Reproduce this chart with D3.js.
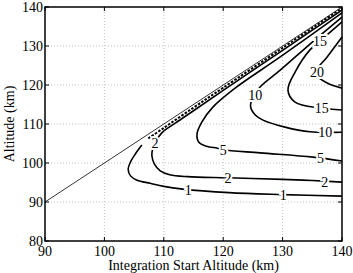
<!DOCTYPE html>
<html>
<head>
<meta charset="utf-8">
<script src="https://cdn.jsdelivr.net/npm/d3@7"></script>
<style>
  body { margin: 0; background: #fff; }
  svg, svg text { font-family: "Liberation Serif", "DejaVu Serif", "Times New Roman", serif; }
  svg { display: block; }
</style>
</head>
<body>
<svg></svg>
<script>
// axis ticks
const xTicks = [90, 100, 110, 120, 130, 140];
const yTicks = [80, 90, 100, 110, 120, 130, 140];
const diagonal = [90, 140];

// contour lines, [integration start altitude, altitude]
const c1Upper = [[107.4, 106.3], [110, 109], [115, 114.2], [120, 119.3], [130, 129.5], [140, 139.7]];
const c1 = [[106.3, 104.6], [105.2, 102.3], [104.4, 100.3], [104.0, 98.4], [104.4, 96.7], [105.5, 95.6],
  [107.7, 94.8], [110, 94.0], [113.2, 93.3], [121, 92.4], [130, 91.9], [140, 91.5]];
const c2 = [[140, 139.2], [130, 128.9], [120, 118.6], [115, 113.4], [112, 110.3], [109.7, 107.8],
  [108.6, 105.4], [108.1, 103.5], [108.0, 101.8], [108.4, 99.8], [109.4, 98.0], [111, 97.0],
  [114, 96.5], [120.8, 96.2], [130, 95.8], [135, 95.5], [140, 95.1]];
const c5 = [[140, 138.5], [129.6, 127.2], [122, 119.2], [118.3, 114.4], [116.4, 110.5], [115.6, 107.5],
  [115.9, 105.3], [117.2, 104.3], [119, 103.8], [120, 103.4], [126.2, 102.6], [135.1, 101.5], [140, 100.5]];
const c10 = [[140, 137.4], [135, 131.0], [129.6, 123.8], [126.2, 119.5], [125.0, 116.8], [124.6, 114.6],
  [125.4, 112.3], [126.7, 111.0], [130.4, 109.2], [134.6, 108.0], [140, 107.9]];
const c15 = [[140, 136.2], [136.3, 131.3], [134.6, 129.0], [132.1, 123.3], [130.9, 118.7], [132.1, 115.6],
  [136.3, 114.1], [140, 113.6]];
const c20 = [[140, 132.3], [137.5, 127.2], [135.8, 124.0], [135.7, 122.6], [137.5, 120.5], [140, 119.2]];

// label positions
const labelText = ['1', '1', '2', '2', '2', '5', '5', '10', '10', '15', '15', '20'];
const labelX = [114.1, 130.1, 108.5, 120.8, 137.1, 120.0, 136.4, 125.4, 137.2, 136.3, 136.6, 135.8];
const labelY = [93.1, 91.8, 105.1, 96.2, 95.1, 103.3, 101.2, 117.4, 107.9, 131.2, 114.0, 123.3];

const width = 353;
const height = 273;
const margin = { left: 45, top: 7, right: 11, bottom: 32 };
const font = '"Liberation Serif", "DejaVu Serif", "Times New Roman", serif';

const svg = d3.select('svg')
  .attr('width', width)
  .attr('height', height)
  .attr('font-family', font);

const x = d3.scaleLinear().domain([90, 140]).range([margin.left, width - margin.right]);
const y = d3.scaleLinear().domain([80, 140]).range([height - margin.bottom, margin.top]);

// grid
const grid = svg.append('g')
  .attr('stroke', '#b4b4b4')
  .attr('stroke-width', 0.8)
  .attr('stroke-dasharray', '1,2');
grid.selectAll('line.gx').data(xTicks.slice(1, -1)).enter().append('line')
  .attr('x1', (d) => x(d)).attr('x2', (d) => x(d))
  .attr('y1', y(80)).attr('y2', y(140));
grid.selectAll('line.gy').data(yTicks.slice(1, -1)).enter().append('line')
  .attr('y1', (d) => y(d)).attr('y2', (d) => y(d))
  .attr('x1', x(90)).attr('x2', x(140));

// diagonal
svg.append('line')
  .attr('x1', x(diagonal[0])).attr('y1', y(diagonal[0]))
  .attr('x2', x(diagonal[1])).attr('y2', y(diagonal[1]))
  .attr('stroke', '#000').attr('stroke-width', 0.8);

const line = d3.line()
  .x((d) => x(d[0]))
  .y((d) => y(d[1]))
  .curve(d3.curveCatmullRom);

svg.append('path')
  .attr('d', line(c1Upper))
  .attr('fill', 'none').attr('stroke', '#000')
  .attr('stroke-width', 2).attr('stroke-dasharray', '2.5,1.5');

const g = svg.append('g').attr('fill', 'none').attr('stroke', '#000').attr('stroke-width', 1.6);
[c1, c2, c5, c10, c15, c20].forEach((c) => {
  g.append('path').attr('d', line(c));
});

// contour labels
svg.append('g')
  .selectAll('text')
  .data(labelText)
  .enter()
  .append('text')
  .attr('x', (d, i) => x(labelX[i]))
  .attr('y', (d, i) => y(labelY[i]))
  .attr('dy', '0.35em')
  .attr('text-anchor', 'middle')
  .attr('font-family', font)
  .attr('font-size', 14)
  .attr('fill', '#000')
  .attr('stroke', '#fff')
  .attr('stroke-width', 4)
  .attr('paint-order', 'stroke')
  .text((d) => d);

// box
svg.append('rect')
  .attr('x', x(90)).attr('y', y(140))
  .attr('width', x(140) - x(90)).attr('height', y(80) - y(140))
  .attr('fill', 'none').attr('stroke', '#000').attr('stroke-width', 1.5);

// ticks, inward on every side
const tickLen = 4;
const ticks = svg.append('g').attr('stroke', '#000').attr('stroke-width', 1);
xTicks.forEach((t) => {
  ticks.append('line').attr('x1', x(t)).attr('x2', x(t)).attr('y1', y(80)).attr('y2', y(80) - tickLen);
  ticks.append('line').attr('x1', x(t)).attr('x2', x(t)).attr('y1', y(140)).attr('y2', y(140) + tickLen);
});
yTicks.forEach((t) => {
  ticks.append('line').attr('y1', y(t)).attr('y2', y(t)).attr('x1', x(90)).attr('x2', x(90) + tickLen);
  ticks.append('line').attr('y1', y(t)).attr('y2', y(t)).attr('x1', x(140)).attr('x2', x(140) - tickLen);
});

// tick labels
svg.append('g').selectAll('text').data(xTicks).enter().append('text')
  .attr('x', (d) => x(d)).attr('y', y(80) + 15)
  .attr('font-family', font)
  .attr('text-anchor', 'middle').attr('font-size', 14).text((d) => d);
svg.append('g').selectAll('text').data(yTicks).enter().append('text')
  .attr('x', x(90) - 2).attr('y', (d) => y(d)).attr('dy', '0.33em')
  .attr('font-family', font)
  .attr('text-anchor', 'end').attr('font-size', 14).text((d) => d);

// axis titles
svg.append('text')
  .attr('x', (x(90) + x(140)) / 2).attr('y', 270)
  .attr('font-family', font)
  .attr('text-anchor', 'middle').attr('font-size', 14)
  .text('Integration Start Altitude (km)');
svg.append('text')
  .attr('transform', `translate(14, ${(y(80) + y(140)) / 2}) rotate(-90)`)
  .attr('font-family', font)
  .attr('text-anchor', 'middle').attr('font-size', 14)
  .text('Altitude (km)');
</script>
</body>
</html>
